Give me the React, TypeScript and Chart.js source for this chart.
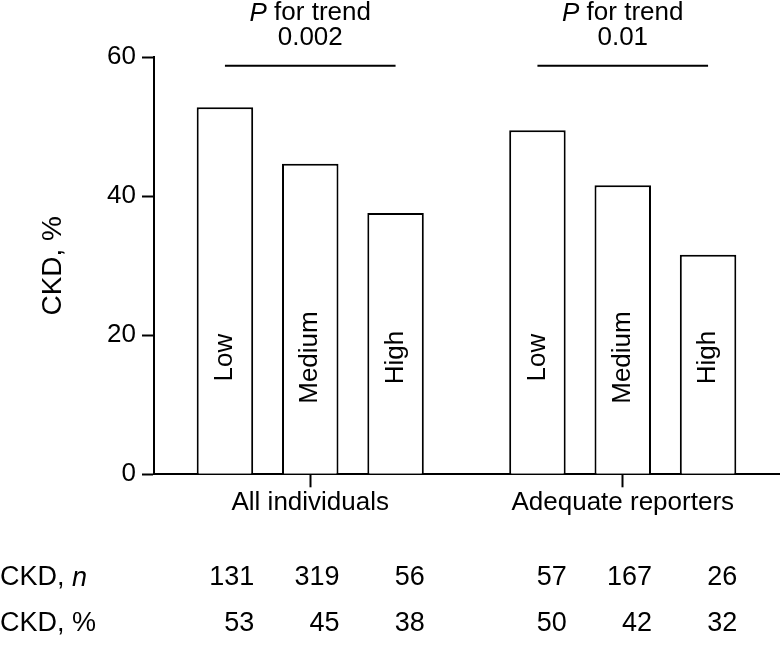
import React, { useEffect, useRef } from 'react';
import { Chart, registerables } from 'chart.js';

Chart.register(...registerables);

const groups = ['All individuals', 'Adequate reporters'];
const levels = ['Low', 'Medium', 'High'];
const lowValues = [52.8, 49.5];
const mediumValues = [44.7, 41.6];
const highValues = [37.6, 31.6];
const yTicks = [0, 20, 40, 60];
const trendPValues = ['0.002', '0.01'];
const ckdCounts = [[131, 319, 56], [57, 167, 26]];
const ckdPercents = [[53, 45, 38], [50, 42, 32]];

const FONT = '"Liberation Sans", Arial, Helvetica, sans-serif';

function drawMixed(ctx: CanvasRenderingContext2D, parts: { t: string; italic?: boolean }[], x: number, y: number, size: number, align: 'left' | 'center') {
  const widths = parts.map((p) => {
    ctx.font = `${p.italic ? 'italic ' : ''}${size}px ${FONT}`;
    return ctx.measureText(p.t).width;
  });
  const total = widths.reduce((a, b) => a + b, 0);
  let cx = align === 'center' ? x - total / 2 : x;
  ctx.textAlign = 'left';
  parts.forEach((p, i) => {
    ctx.font = `${p.italic ? 'italic ' : ''}${size}px ${FONT}`;
    ctx.fillText(p.t, cx, y);
    cx += widths[i];
  });
}

const annotationsPlugin = {
  id: 'annotationsPlugin',
  afterDatasetsDraw(chart: any) {
    const ctx: CanvasRenderingContext2D = chart.ctx;
    const area = chart.chartArea;
    const yScale = chart.scales.y;
    const xScale = chart.scales.x;
    ctx.save();
    ctx.fillStyle = '#000';
    ctx.strokeStyle = '#000';

    // labels inside bars
    chart.data.datasets.forEach((ds: any, di: number) => {
      const meta = chart.getDatasetMeta(di);
      meta.data.forEach((bar: any) => {
        ctx.save();
        ctx.translate(bar.x, yScale.getPixelForValue(16.8));
        ctx.rotate(-Math.PI / 2);
        ctx.font = `26px ${FONT}`;
        ctx.textAlign = 'center';
        ctx.textBaseline = 'middle';
        ctx.fillText(ds.label, 0, 0);
        ctx.restore();
      });
    });

    // P for trend
    groups.forEach((g, gi) => {
      const x1 = chart.getDatasetMeta(0).data[gi].x;
      const x2 = chart.getDatasetMeta(2).data[gi].x;
      const xc = xScale.getPixelForValue(gi);
      const lineY = area.top + 8.5;
      ctx.lineWidth = 2;
      ctx.beginPath();
      ctx.moveTo(x1, lineY);
      ctx.lineTo(x2, lineY);
      ctx.stroke();
      ctx.textBaseline = 'middle';
      drawMixed(ctx, [{ t: 'P', italic: true }, { t: ' for trend' }], xc, area.top - 44, 26, 'center');
      ctx.font = `26px ${FONT}`;
      ctx.textAlign = 'center';
      ctx.fillText(trendPValues[gi], xc, area.top - 19);
    });

    // table
    const row1Y = 578;
    const row2Y = 624;
    ctx.textBaseline = 'middle';
    drawMixed(ctx, [{ t: 'CKD, ' }, { t: 'n', italic: true }], 0, row1Y, 27, 'left');
    drawMixed(ctx, [{ t: 'CKD, %' }], 0, row2Y, 27, 'left');
    ctx.font = `27px ${FONT}`;
    ctx.textAlign = 'right';
    groups.forEach((g, gi) => {
      levels.forEach((lv, li) => {
        const bar = chart.getDatasetMeta(li).data[gi];
        const right = bar.x + bar.width / 2 + 1;
        ctx.fillText(String(ckdCounts[gi][li]), right, row1Y);
        ctx.fillText(String(ckdPercents[gi][li]), right, row2Y);
      });
    });
    ctx.restore();
  },
};

export default function App() {
  const canvasRef = useRef<HTMLCanvasElement | null>(null);

  useEffect(() => {
    document.body.style.margin = '0';
    const canvas = canvasRef.current;
    if (!canvas) return;
    const values = [lowValues, mediumValues, highValues];
    const chart = new Chart(canvas, {
      type: 'bar',
      data: {
        labels: groups,
        datasets: levels.map((lv, i) => ({
          label: lv,
          data: values[i],
          backgroundColor: '#ffffff',
          borderColor: '#000000',
          borderWidth: 2,
          categoryPercentage: 0.819,
          barPercentage: 0.662,
        })),
      },
      options: {
        responsive: false,
        animation: false,
        devicePixelRatio: 1,
        layout: { padding: { top: 57.3, right: 4, left: 0, bottom: 0 } },
        plugins: { legend: { display: false }, tooltip: { enabled: false } },
        scales: {
          x: {
            grid: {
              display: true,
              offset: false,
              drawOnChartArea: false,
              drawTicks: true,
              tickLength: 13,
              tickWidth: 2,
              tickColor: '#000',
            },
            border: { display: true, color: '#000', width: 2 },
            ticks: {
              color: '#000',
              font: { family: FONT, size: 26 },
              padding: 0,
              maxRotation: 0,
            },
            afterFit: (scale: any) => {
              scale.height = 653 - 474.3;
            },
          },
          y: {
            min: 0,
            max: 60,
            afterBuildTicks: (scale: any) => {
              scale.ticks = yTicks.map((v) => ({ value: v }));
            },
            grid: {
              display: true,
              drawOnChartArea: false,
              drawTicks: true,
              tickLength: 12,
              tickWidth: 2,
              tickColor: '#000',
            },
            border: { display: true, color: '#000', width: 2 },
            ticks: {
              color: '#000',
              font: { family: FONT, size: 26 },
              padding: 6,
            },
            title: {
              display: true,
              text: 'CKD, %',
              color: '#000',
              font: { family: FONT, size: 28 },
              padding: { top: 36, bottom: 0 },
            },
            afterFit: (scale: any) => {
              scale.width = 154;
            },
          },
        },
      },
      plugins: [annotationsPlugin],
    } as any);
    return () => chart.destroy();
  }, []);

  return (
    <div style={{ position: 'absolute', left: 0, top: 0, width: 783, height: 653, background: '#fff' }}>
      <canvas ref={canvasRef} width={783} height={653} />
    </div>
  );
}
